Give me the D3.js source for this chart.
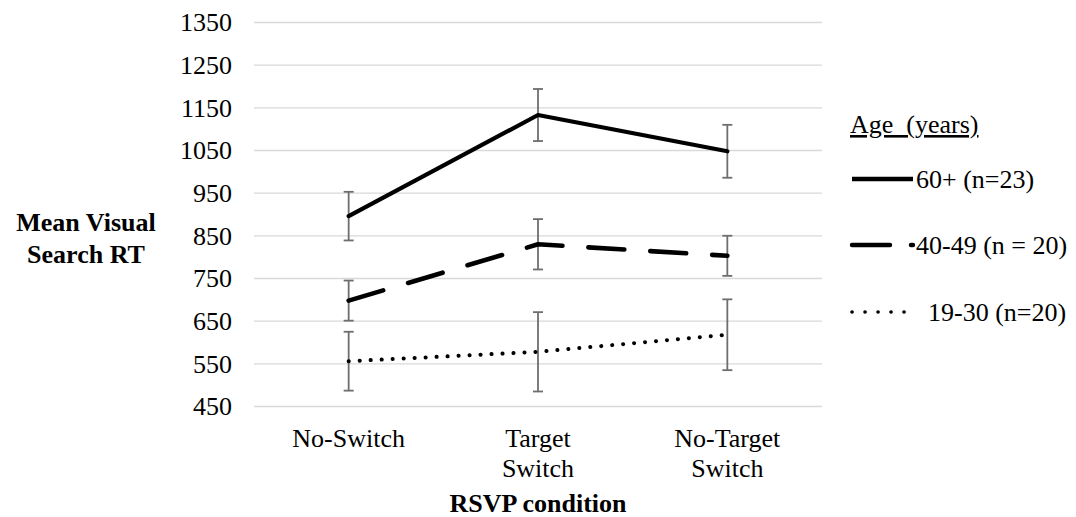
<!DOCTYPE html>
<html>
<head>
<meta charset="utf-8">
<script src="https://cdn.jsdelivr.net/npm/d3@7"></script>
<style>
  @font-face {
    font-family: "ChartSerif";
    font-weight: 400;
    src: local("Liberation Serif"), local("LiberationSerif"), local("Liberation Serif Regular"), local("Tinos"), local("Times New Roman");
  }
  @font-face {
    font-family: "ChartSerif";
    font-weight: 700;
    src: local("Liberation Serif Bold"), local("LiberationSerif-Bold"), local("Tinos Bold"), local("Times New Roman Bold");
  }
</style>
</head>
<body style="margin:0; background:#fff;">
<svg id="chart" width="1076" height="517"></svg>
<script>
// RSVP conditions on the x axis
const categories = ["No-Switch", "Target Switch", "No-Target Switch"];
const categoryLines = [["No-Switch"], ["Target", "Switch"], ["No-Target", "Switch"]];

// Age groups
const groups = ["60+ (n=23)", "40-49 (n = 20)", "19-30 (n=20)"];

// Mean visual search RT (ms) per condition
const means60 = [895, 1132, 1047];
const means40 = [697, 829, 802];
const means19 = [555, 577, 617];

// Error bar half-lengths (ms)
const err60 = [57, 61, 62];
const err40 = [47, 59, 47];
const err19 = [69, 93, 83];

// Y axis ticks
const yTicks = [450, 550, 650, 750, 850, 950, 1050, 1150, 1250, 1350];

const FONT = '"Liberation Serif", ChartSerif, Tinos, Times, "Times New Roman", serif';

const seriesData = [
  { name: groups[0], means: means60, err: err60, style: "solid" },
  { name: groups[1], means: means40, err: err40, style: "dash" },
  { name: groups[2], means: means19, err: err19, style: "dot" }
];

const svg = d3.select("#chart");
const plot = { left: 254, right: 822, top: 22, bottom: 406 };

const x = d3.scaleBand().domain(categories).range([plot.left, plot.right]).paddingInner(0).paddingOuter(0);
const cx = c => x(c) + x.bandwidth() / 2;
const y = d3.scaleLinear().domain([450, 1350]).range([plot.bottom, plot.top]);

// Gridlines and y tick labels
const yAxis = d3.axisLeft(y)
  .tickValues(yTicks)
  .tickSize(-(plot.right - plot.left))
  .tickPadding(22)
  .tickFormat(d3.format("d"));

const gy = svg.append("g")
  .attr("transform", `translate(${plot.left},0)`)
  .call(yAxis)
  .attr("font-family", null)
  .attr("font-size", null);
gy.select(".domain").remove();
gy.selectAll(".tick line").attr("stroke", "#d9d9d9").attr("stroke-width", 1.4);
gy.selectAll(".tick text")
  .attr("fill", "#000")
  .attr("dy", "0.34em")
  .style("font-family", FONT)
  .style("font-size", "26px");

// X category labels (multi-line)
categories.forEach((c, i) => {
  const t = svg.append("text")
    .attr("x", cx(c))
    .attr("y", 447)
    .attr("text-anchor", "middle")
    .style("font-family", FONT)
    .style("font-size", "26px")
    .attr("fill", "#000");
  categoryLines[i].forEach((line, j) => {
    t.append("tspan").attr("x", cx(c)).attr("dy", j === 0 ? 0 : 30).text(line);
  });
});

// Axis titles
svg.append("text")
  .attr("x", 538).attr("y", 512)
  .attr("text-anchor", "middle")
  .style("font-family", FONT)
  .style("font-size", "26px").style("font-weight", "bold")
  .text("RSVP condition");

const yt = svg.append("text")
  .attr("text-anchor", "middle")
  .style("font-family", FONT)
  .style("font-size", "26px").style("font-weight", "bold");
yt.append("tspan").attr("x", 86).attr("y", 231).text("Mean Visual");
yt.append("tspan").attr("x", 86).attr("y", 263).text("Search RT");

// Line styles per group
const dashFor = { solid: null, dash: "36,26", dot: "0.1,10.9" };
const widthFor = { solid: 4.2, dash: 4.6, dot: 4 };

// Error bars
const eb = svg.append("g").attr("stroke", "#6e6e6e").attr("stroke-width", 1.8).attr("fill", "none");
seriesData.forEach(s => {
  categories.forEach((c, i) => {
    const xc = cx(c);
    const hi = y(s.means[i] + s.err[i]);
    const lo = y(s.means[i] - s.err[i]);
    eb.append("line").attr("x1", xc).attr("x2", xc).attr("y1", hi).attr("y2", lo);
    eb.append("line").attr("x1", xc - 5).attr("x2", xc + 5).attr("y1", hi).attr("y2", hi);
    eb.append("line").attr("x1", xc - 5).attr("x2", xc + 5).attr("y1", lo).attr("y2", lo);
  });
});

// Series lines
const line = d3.line().x((d, i) => cx(categories[i])).y(d => y(d));
seriesData.forEach(s => {
  svg.append("path")
    .datum(s.means)
    .attr("d", line)
    .attr("fill", "none")
    .attr("stroke", "#000")
    .attr("stroke-width", widthFor[s.style])
    .attr("stroke-linecap", "round")
    .attr("stroke-linejoin", "round")
    .attr("stroke-dasharray", dashFor[s.style]);
});

// Legend
svg.append("text")
  .attr("x", 850).attr("y", 133)
  .style("font-family", FONT)
  .style("font-size", "26px")
  .attr("text-decoration", "underline")
  .text("Age\u00a0 (years)");

const legendRows = [
  { y: 179, textX: 916, textY: 188 },
  { y: 245, textX: 916, textY: 254 },
  { y: 312, textX: 928, textY: 321 }
];
const legendDash = { solid: null, dash: "38,21", dot: "0.1,12.9" };
seriesData.forEach((s, i) => {
  const r = legendRows[i];
  svg.append("line")
    .attr("x1", 852).attr("x2", 913)
    .attr("y1", r.y).attr("y2", r.y)
    .attr("stroke", "#000")
    .attr("stroke-width", s.style === "dot" ? 3.6 : 4.4)
    .attr("stroke-linecap", s.style === "solid" ? "butt" : "round")
    .attr("stroke-dasharray", legendDash[s.style]);
  svg.append("text")
    .attr("x", r.textX).attr("y", r.textY)
    .style("font-family", FONT)
    .style("font-size", "26px")
    .text(s.name);
});
</script>
</body>
</html>
